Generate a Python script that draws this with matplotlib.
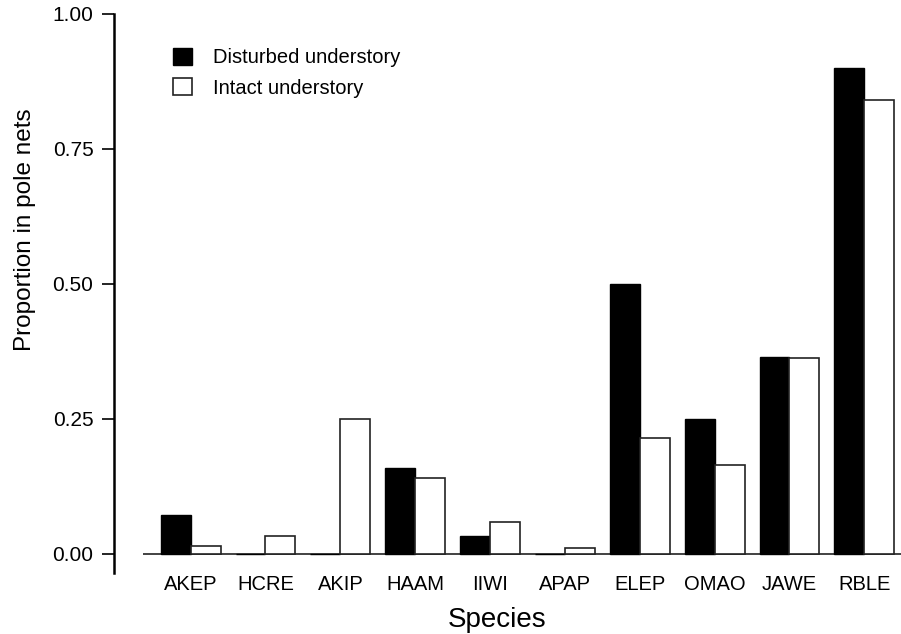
import matplotlib.pyplot as plt
import numpy as np

plt.rcParams['font.family'] = ['Liberation Sans', 'DejaVu Sans']

species = ['AKEP', 'HCRE', 'AKIP', 'HAAM', 'IIWI', 'APAP', 'ELEP', 'OMAO', 'JAWE', 'RBLE']
disturbed = [0.072, 0.0, 0.0, 0.159, 0.033, 0.0, 0.50, 0.25, 0.364, 0.90]
intact = [0.014, 0.032, 0.25, 0.140, 0.059, 0.010, 0.214, 0.164, 0.362, 0.841]
yticks = [0.0, 0.25, 0.50, 0.75, 1.00]

fig = plt.figure(figsize=(9.01, 6.34), dpi=100)
ax = fig.add_axes([0.126, 0.084, 0.874, 0.894])

x = np.arange(len(species))
w = 0.4
ax.bar(x - w / 2, disturbed, w, color='black', edgecolor='black', linewidth=1.0,
       label='Disturbed understory')
ax.bar(x + w / 2, intact, w, color='white', edgecolor='#222222', linewidth=1.2,
       label='Intact understory')

ax.set_xlim(-1.03, 9.49)
ax.set_ylim(-0.05, 1.0)

# baseline starts just before the first group and runs off the right edge
ax.hlines(0, -0.63, 9.49, color='#222222', linewidth=1.2, zorder=0)

for side in ['top', 'right', 'bottom']:
    ax.spines[side].set_visible(False)
ax.spines['left'].set_linewidth(1.8)
ax.spines['left'].set_bounds(-0.036, 1.0)

ax.set_yticks(yticks)
ax.set_yticklabels(['%.2f' % v for v in yticks])
ax.tick_params(axis='y', direction='out', length=8.5, width=1.2, pad=6, labelsize=15)
ax.set_xticks(x)
ax.set_xticklabels(species)
ax.tick_params(axis='x', length=0, pad=-4, labelsize=14.5)

ax.set_xlabel('Species', fontsize=20, va='top')
ax.xaxis.set_label_coords(0.487, -0.047)
ax.set_ylabel('Proportion in pole nets', fontsize=17.5, va='center', ha='center')
ax.yaxis.set_label_coords(-0.112, 0.619)

ax.legend(loc='upper left', bbox_to_anchor=(0.0752, 0.94), frameon=False,
          fontsize=14.5, handlelength=0.95, handleheight=0.9,
          handletextpad=1.05, labelspacing=0.55, borderpad=0, borderaxespad=0)

plt.savefig('out.png', dpi=100)
